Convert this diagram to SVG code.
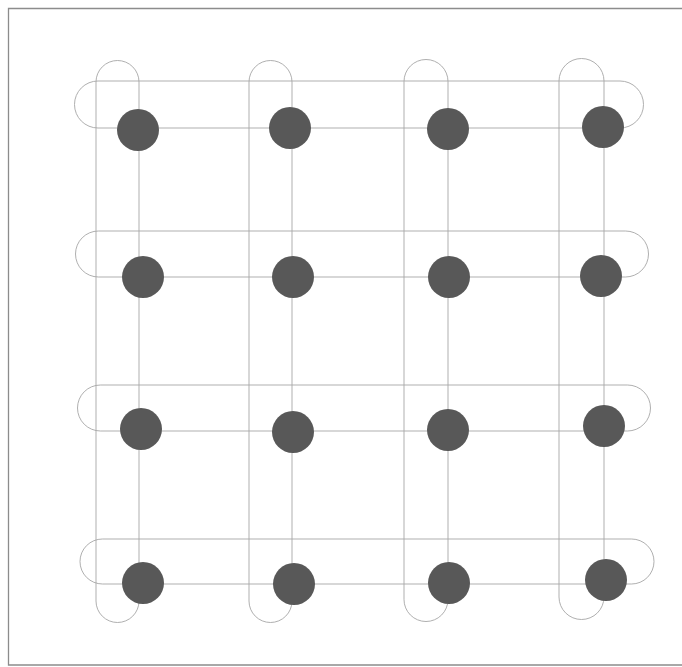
<svg xmlns="http://www.w3.org/2000/svg" width="682" height="667" viewBox="0 0 682 667">
  <style>
    .frame { fill: none; stroke: #8c8c8c; stroke-width: 1.3; }
    .loop { fill: none; stroke: #a6a6a6; stroke-width: 0.9; }
    .dot { fill: #585858; }
  </style>
  <rect width="682" height="667" fill="#ffffff"/>
  <path class="frame" d="M682,8.5 H8.5 V665 H682"/>
  <g id="connectors">
    <rect class="loop" x="96" y="60.5" width="43" height="562" rx="21.5"/>
    <rect class="loop" x="249" y="60.5" width="43" height="562" rx="21.5"/>
    <rect class="loop" x="404" y="59.5" width="44" height="562" rx="22"/>
    <rect class="loop" x="559" y="58.5" width="45" height="561" rx="22.5"/>
    <rect class="loop" x="74.5" y="81" width="569" height="47" rx="23.5"/>
    <rect class="loop" x="75.5" y="231" width="573" height="46" rx="23"/>
    <rect class="loop" x="77.5" y="385" width="573" height="46" rx="23"/>
    <rect class="loop" x="80" y="539" width="574" height="45" rx="22.5"/>
  </g>
  <g id="n11"><circle class="dot" cx="138" cy="130" r="21"/></g>
  <g id="n12"><circle class="dot" cx="290" cy="128" r="21"/></g>
  <g id="n13"><circle class="dot" cx="448" cy="129" r="21"/></g>
  <g id="n14"><circle class="dot" cx="603" cy="127" r="21"/></g>
  <g id="n21"><circle class="dot" cx="143" cy="277" r="21"/></g>
  <g id="n22"><circle class="dot" cx="293" cy="277" r="21"/></g>
  <g id="n23"><circle class="dot" cx="449" cy="277" r="21"/></g>
  <g id="n24"><circle class="dot" cx="601" cy="276" r="21"/></g>
  <g id="n31"><circle class="dot" cx="141" cy="429" r="21"/></g>
  <g id="n32"><circle class="dot" cx="293" cy="432" r="21"/></g>
  <g id="n33"><circle class="dot" cx="448" cy="430" r="21"/></g>
  <g id="n34"><circle class="dot" cx="604" cy="426" r="21"/></g>
  <g id="n41"><circle class="dot" cx="143" cy="583" r="21"/></g>
  <g id="n42"><circle class="dot" cx="294" cy="584" r="21"/></g>
  <g id="n43"><circle class="dot" cx="449" cy="583" r="21"/></g>
  <g id="n44"><circle class="dot" cx="606" cy="580" r="21"/></g>
</svg>
